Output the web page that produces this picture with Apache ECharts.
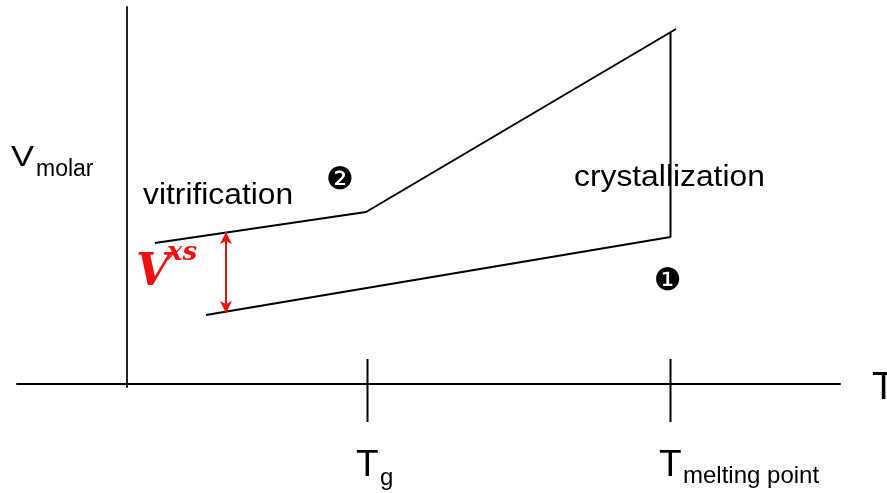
<!DOCTYPE html>
<html>
<head>
<meta charset="utf-8">
<script src="https://cdn.jsdelivr.net/npm/echarts@6/dist/echarts.min.js"></script>
<style>
  html, body { margin: 0; padding: 0; background: #fff; }
  #chart { width: 887px; height: 493px; }
</style>
</head>
<body>
<div id="chart"></div>
<script>
// temperature (arbitrary units) and molar volume
const glassPath = [[2.8, 14.1], [23.9, 17.2], [54.9, 35.5]]
const crystalPath = [[54.35, 35.1], [54.35, 14.7], [7.9, 6.9]]
const tickTemps = [24.05, 54.35]
const tickSpan = [2.5, -3.8]
const vxsArrow = { T: 9.9, low: 7.1, high: 15.2 }

const font = '"Liberation Sans", Arial, sans-serif'

// text placed by the top of its glyph box
function txt(x, y, text, size, extra, sx) {
  return {
    type: 'text',
    x: x,
    y: y,
    scaleX: sx || 1,
    silent: true,
    style: Object.assign({
      text: text,
      fontSize: size,
      fontFamily: font,
      fill: '#000',
      verticalAlign: 'top'
    }, extra || {})
  }
}

const lineStyle = { color: '#000', width: 2 }
const redHand = { fill: '#ee1111', fontFamily: '"DejaVu Serif"', fontWeight: 'bold', fontStyle: 'italic' }
const dingbat = { fontFamily: '"DejaVu Sans"', align: 'center', verticalAlign: 'middle' }

const series = [
  {
    type: 'line',
    data: glassPath,
    symbol: 'none',
    lineStyle: lineStyle,
    silent: true
  },
  {
    type: 'line',
    data: crystalPath,
    symbol: 'none',
    lineStyle: lineStyle,
    silent: true,
    markLine: {
      silent: true,
      symbol: ['arrow', 'arrow'],
      symbolSize: [9, 12],
      label: { show: false },
      lineStyle: { color: '#ee1111', width: 2, type: 'solid' },
      data: [[
        { coord: [vxsArrow.T, vxsArrow.low] },
        { coord: [vxsArrow.T, vxsArrow.high] }
      ]]
    }
  }
]

tickTemps.forEach(t => {
  series.push({
    type: 'line',
    data: tickSpan.map(v => [t, v]),
    symbol: 'none',
    clip: false,
    lineStyle: lineStyle,
    silent: true
  })
})

const chart = echarts.init(document.getElementById('chart'))
chart.setOption({
  animation: false,
  backgroundColor: '#fff',
  grid: { left: 17, right: 47, top: 7, bottom: 106 },
  xAxis: {
    type: 'value',
    min: -11,
    max: 71.3,
    axisLine: { onZero: true, lineStyle: { color: '#000', width: 2 } },
    axisTick: { show: false },
    axisLabel: { show: false },
    splitLine: { show: false }
  },
  yAxis: {
    type: 'value',
    min: -0.3,
    max: 37.7,
    axisLine: { show: true, onZero: true, lineStyle: { color: '#222', width: 2 } },
    axisTick: { show: false },
    axisLabel: { show: false },
    splitLine: { show: false }
  },
  series: series,
  graphic: [
    txt(11, 143, 'V', 30, null, 1.15),
    txt(36, 158, 'molar', 23),
    txt(143, 181, 'vitrification', 30, null, 1.06),
    txt(574, 163, 'crystallization', 30, null, 1.06),
    txt(340, 181, '\u2777', 31, dingbat),
    txt(668, 282, '\u2776', 31, dingbat),
    txt(356, 447, 'T', 37),
    txt(380, 466, 'g', 24),
    txt(659, 447, 'T', 37),
    txt(683, 464, 'melting point', 24),
    txt(872, 370, 'T', 38),
    txt(136, 252, 'V', 44, redHand),
    txt(167, 240, 'xs', 26, redHand)
  ]
})
</script>
</body>
</html>
